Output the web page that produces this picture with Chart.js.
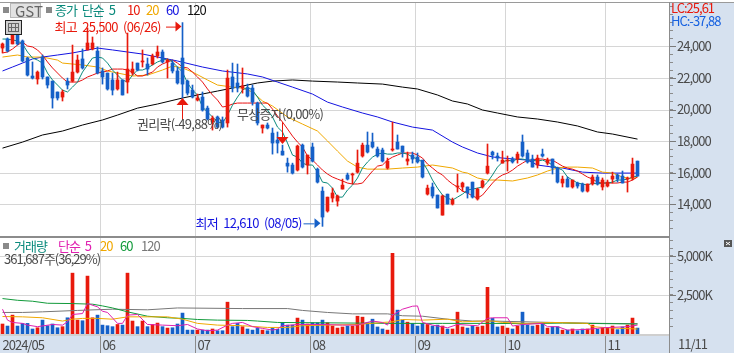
<!DOCTYPE html>
<html><head><meta charset="utf-8">
<style>html,body{margin:0;padding:0;background:#fff;overflow:hidden}#w{position:relative;width:734px;height:353px}</style>
<script src="https://cdn.jsdelivr.net/npm/chart.js@4/dist/chart.umd.min.js"></script>
</head><body><div id="w"><canvas id="c" width="734" height="353"></canvas></div>
<script>
const monthLabels=['2024/05','06','07','08','09','10','11'];
const monthStarts=[0,20,39,62,83,101,121];
const slotCount=134;
const opens=[23890,24460,24150,24840,24340,23260,22120,21930,23320,22060,
21800,21110,20790,21800,21800,22370,23200,23770,23830,23700,
22440,22310,21870,21300,21870,21740,22310,22940,23010,22880,
22880,23390,23640,23010,22940,22440,23260,21800,21230,20600,
20790,20090,19210,19530,19340,19150,22060,21680,21360,21360,
21360,20410,18830,19020,18510,18070,17370,16610,16490,16170,
17750,16490,17630,16230,14840,13580,14400,14210,14970,15860,
15860,16040,17060,17750,17940,17500,17440,16300,17440,17940,
17690,16740,17120,16990,16800,14650,15100,14590,13320,14650,
14020,15100,15100,15100,15410,14340,15100,15980,17310,17060,
16610,16740,16870,16870,17940,17250,16870,16490,17180,16610,
16870,16300,15350,15600,15100,15350,15290,14840,15290,15730,
15100,15160,15600,15860,15790,15600,15670,16740];
const closes=[24150,23700,24840,24150,23070,22180,21990,22370,22060,21550,
20730,20730,21110,21550,22370,23130,22630,24210,24210,22310,
22060,21300,21230,21870,20920,22560,22560,22500,23070,22560,
23390,23640,23010,23130,22440,21680,21610,21040,20790,20730,
19970,19400,19460,18890,18890,21990,21360,21360,21490,20850,
20470,19150,19020,18830,17880,17880,17120,16420,15980,17690,
16360,17120,16740,15410,13200,14460,14720,14530,15220,15600,
15920,16610,17750,17310,17630,17060,16740,16740,17500,17500,
17310,16870,16870,16680,15730,15030,14530,13770,14530,14020,
14270,15160,15350,14720,14460,14970,15480,16420,17120,16930,
16800,16800,16680,17180,17060,16680,16360,16930,17060,16800,
16300,15410,15600,15100,15540,15160,14840,15290,15730,15290,
15540,15410,15790,15600,15350,15670,16550,15790];
const highs=[24210,24530,25030,25030,24400,23320,23010,22440,23450,22060,
21800,21110,21230,21990,24080,23450,23830,25160,24590,23960,
22630,22310,22310,22370,21870,24840,23010,22940,23770,23260,
23510,24020,23770,23200,23130,22690,25500,21870,21550,20980,
21110,20220,19590,19590,19530,22500,22940,22880,22630,21610,
21550,20470,19020,19150,18830,18580,17750,16930,16610,17750,
17820,17120,17880,16300,15100,14460,15030,14590,15600,15980,
15980,17440,17880,18580,18510,17630,17560,16930,19210,18390,
17690,17310,17310,17250,16800,15220,15350,14590,14590,14650,
14400,15920,15410,15100,15410,15030,15540,17820,17370,17250,
17370,17060,16990,17310,18390,17440,17120,17120,17500,16930,
16870,16360,15790,15730,15540,15410,15350,15290,15860,15860,
15670,15540,16040,15920,16110,15730,16930,16740];
const lows=[23580,23640,24150,24080,23010,22120,21930,21610,21930,21360,
20090,20600,20540,21300,21740,22310,22560,23770,23770,22250,
21610,21230,20920,21230,20920,21040,22180,22440,22690,22180,
22820,23260,22940,21990,22310,21610,20730,20920,20730,20540,
19900,19340,18700,18830,18830,18890,21110,21110,21040,20790,
20280,19020,18510,18770,17180,17250,17120,16040,15920,16110,
16300,15920,16680,15350,12610,13510,14150,13890,14970,15540,
15290,15980,16990,17250,17560,16990,16680,16230,17370,17500,
16990,16490,16610,16610,15670,14590,14400,13770,13320,14020,
13960,14780,14840,14400,14400,14270,15030,15920,16870,16740,
16610,16110,16610,16610,16990,16610,16360,16300,16990,16490,
15920,15350,15100,15100,15030,15030,14780,14780,15220,15220,
14910,15100,15350,15410,15350,14780,15540,15790];
const ma5=[24460,24460,24400,24340,24150,23640,23260,23130,22940,22310,
21870,21550,21230,21110,21420,21740,22370,22820,23260,23320,
23260,22940,22500,22180,21870,21740,22180,22500,22500,22630,
22820,23010,23130,23200,23010,22690,22370,21680,21230,20920,
20160,19840,19530,19210,19150,19650,20280,20790,21230,21420,
21230,20790,20280,19970,19530,18890,18580,17880,17120,16990,
16610,16490,16490,16040,15410,15350,15030,14460,14460,14910,
15220,15670,16300,16680,16990,17180,17250,17180,17180,17250,
17250,17180,16990,16870,16680,16170,15540,15030,14590,14400,
14270,14460,14650,14910,14970,15030,15100,15410,15860,16360,
16680,16800,16740,16870,16870,16800,16800,16740,16800,16680,
16490,16300,16170,15730,15540,15350,15290,15220,15350,15290,
15350,15350,15410,15540,15540,15600,15730,15790];
const ma10=[23580,23640,23830,24080,24270,24020,23960,23770,23450,23010,
22630,22310,21990,21740,21740,21740,21870,22060,22180,22310,
22370,22440,22560,22560,22560,22500,22370,22120,22120,22250,
22370,22690,22880,23010,23130,22940,22690,22630,22370,22060,
21740,21300,20920,20600,20160,20220,20350,20410,20410,20410,
20410,20410,20410,20410,20030,19590,19210,18770,18320,17940,
17630,17060,16800,16490,16170,15920,15730,15600,15480,15350,
15290,15290,15350,15730,16110,16420,16490,16800,16990,17120,
17250,17250,17250,17120,16930,16550,16300,16040,15860,15540,
15290,15100,14840,14720,14530,14400,14590,14970,15350,15670,
15860,15980,16170,16420,16610,16800,16800,16870,16870,16800,
16800,16610,16420,16300,16230,16110,15920,15730,15600,15410,
15350,15350,15350,15350,15410,15410,15540,15730];
const ma20At=[0,3,5,8,11,12,16,19,21,23,26,29,32,34,36,38,41,43,46,48,50,52,54,57,60,63,65,67,69,71,73,77,80,83,86,90,92,93,95,97,99,102,105,107,109,111,113,115,118,120,122,124,126,127];
const ma20=[23320,23450,23320,23320,23130,22940,22820,22690,22440,22310,22120,22180,22500,22750,22630,22370,21870,21550,21420,21360,21110,20540,20220,19530,19080,18640,18010,17370,16740,16360,16230,16230,16300,16360,16490,16300,16040,15980,15670,15540,15540,15480,15670,15860,16110,16300,16360,16360,16300,16040,15980,15730,15600,15730];
const ma60At=[0,2,4,6,8,11,14,16,19,22,25,28,32,35,40,44,49,52,55,58,62,65,68,72,75,78,82,86,90,92,95,98,100,105,107,110,112,116,120,127];
const ma60=[22440,22690,22940,23200,23320,23450,23580,23700,23890,23770,23640,23510,23260,23070,22690,22440,22250,22060,21740,21420,20980,20470,20160,19780,19530,19210,18890,18700,17940,17630,17250,17000,16930,16800,16490,16360,16300,16040,15980,15980];
const ma120At=[0,4,8,12,16,20,23,27,31,36,39,43,49,51,54,58,62,67,71,76,80,83,87,90,93,96,99,103,107,111,115,119,122,127];
const ma120=[17560,17940,18390,18640,19020,19340,19650,20090,20350,20730,20920,21170,21550,21680,21800,21870,21800,21740,21680,21610,21420,21300,20920,20540,20350,19970,19780,19530,19400,19210,18960,18580,18450,18130];
const volumes=[640,510,1210,510,680,680,320,400,890,530,
640,400,470,1040,3900,890,850,3710,1040,1210,
570,530,470,610,570,3900,830,470,830,470,
610,700,470,380,400,640,1340,250,250,250,
250,250,320,210,210,2040,470,680,470,320,
250,360,250,210,360,300,720,570,570,1020,
890,640,720,720,890,720,510,380,450,510,
510,1140,1080,720,950,450,320,250,5170,1530,
890,760,660,510,660,610,510,570,510,320,
320,1400,450,380,510,450,510,2990,1000,450,
510,380,320,510,1400,570,510,570,700,380,
470,470,250,250,320,210,320,320,570,300,
400,400,510,280,450,570,1020,380];
const vma5At=[0,1,2,4,5,7,10,12,13,14,16,17,19,20,21,23,24,25,27,29,32,35,37,39,41,43,45,46,48,50,52,54,55,56,59,64,68,71,74,76,77,78,80,82,83,84,86,89,91,95,97,98,101,102,104,108,109,111,113,117,119,120,125,127];
const vma5=[1590,890,740,680,570,470,610,570,780,1250,1310,1950,1740,1460,1380,680,680,1210,1250,610,570,530,610,320,210,250,570,680,740,470,360,250,320,530,610,610,570,570,830,740,570,1210,1590,1780,1800,740,570,400,610,530,1000,1040,1040,510,610,680,470,470,250,300,360,400,470,570];
const vma20At=[0,4,8,12,14,16,19,22,25,29,33,36,39,43,48,53,57,60,65,71,76,78,80,84,89,92,96,98,100,105,110,117,118,121,127];
const vma20=[1120,1100,1040,830,950,1000,1000,950,1100,1100,1100,950,680,570,530,420,420,530,570,610,740,780,930,890,950,780,830,830,740,680,740,680,470,400,320];
const vma60At=[0,3,6,9,14,18,20,22,25,29,33,36,39,43,49,51,55,78,88,98,105,112,116,127];
const vma60=[2270,2160,2100,1970,1950,1910,1800,1670,1420,1140,1040,1000,930,890,870,830,740,680,680,680,660,700,680,640];
const vma120At=[0,4,8,15,22,29,35,48,57,60,65,70,77,80,84,89,94,98,110,120,127];
const vma120=[1380,1380,1420,1510,1590,1550,1670,1630,1630,1510,1380,1290,1290,1170,1140,950,830,830,740,680,660];
const priceTicks=[12500,13000,13500,14000,14500,15000,15500,16000,16500,17000,17500,18000,18500,19000,19500,20000,20500,21000,21500,22000,22500,23000,23500,24000,24500,25000,25500,26000,26500];
const priceLabels=[14000,16000,18000,20000,22000,24000];
const volTicks=[500,1000,1500,2000,2500,3000,3500,4000,4500,5000,5500,6000];
const volLabels=[2500,5000];

const RED='#e8190c',BLUE='#1560c8',GRID='#d6d6d6',AXIS='#8c8c8c',PANEL='#d6e1ef',TXT='#4a4a4a';
const FONT='"Noto Sans CJK KR",sans-serif';
const categories=new Array(slotCount).fill('');
monthStarts.forEach((s,i)=>categories[s]=monthLabels[i]);
const sparse=(at,v)=>{const a=new Array(opens.length).fill(null);at.forEach((k,i)=>a[k]=v[i]);return a;};
const candleColor=opens.map((o,i)=>closes[i]>=o?RED:BLUE);
const line=(data,color,axis,order,w)=>({type:'line',data,yAxisID:axis,borderColor:color,borderWidth:w||1,pointRadius:0,spanGaps:true,tension:0,order,fill:false});
const fmt=v=>String(v).replace(/\B(?=(\d{3})+$)/g,',');
const txt=(ctx,s,x,y,color,size)=>{ctx.fillStyle=color;ctx.font=(size||13)+'px '+FONT;ctx.textAlign='left';ctx.textBaseline='middle';ctx.fillText(s,x,y);};
const noPad=s=>{s.paddingTop=0;s.paddingBottom=0;s.paddingLeft=0;s.paddingRight=0;};

const decor={id:'decor',
beforeDraw(ch){const c=ch.ctx;c.fillStyle=PANEL;c.fillRect(670,2,64,351);c.fillRect(0,336,734,17);c.letterSpacing='-1px';c.wordSpacing='3px';},
beforeDatasetsDraw(ch){const c=ch.ctx,P=ch.scales.yP,V=ch.scales.yV;c.save();c.fillStyle=GRID;
 priceLabels.forEach(t=>c.fillRect(0,Math.round(P.getPixelForValue(t)),669,1));
 volLabels.forEach(t=>c.fillRect(0,Math.round(V.getPixelForValue(t)),669,1));
 c.restore();},
afterDraw(ch){const c=ch.ctx,X=ch.scales.x,P=ch.scales.yP,V=ch.scales.yV;c.save();
 c.fillStyle='#9a9a9a';c.fillRect(0,2,734,1);
 c.fillStyle=AXIS;c.fillRect(0,236,670,2);c.fillRect(669,2,1,351);
 c.fillStyle='#cfcfcf';c.fillRect(0,334,669,2);
 c.fillStyle='#7a7a7a';
 priceLabels.forEach(t=>c.fillRect(670,Math.round(P.getPixelForValue(t)),6,1));
 volLabels.forEach(t=>c.fillRect(670,Math.round(V.getPixelForValue(t)),6,1));
 c.fillStyle='#8a8a8a';c.fillRect(3,7,6,6);c.fillRect(46,7,6,6);c.fillRect(3,243,6,6);
 c.fillStyle='#e2e2e2';c.fillRect(11,3,30,15);c.strokeStyle='#b8b8b8';c.strokeRect(10.5,3.5,30,14);
 c.letterSpacing='0px';txt(c,'GST',15,11,'#666',15);c.letterSpacing='-1px';
 txt(c,'종가 단순 5',55,10,'#0a8a7c',13);
 txt(c,'10',127,10,RED,13);txt(c,'20',146,10,'#f0a800',13);txt(c,'60',166,10,'#1414e0',13);txt(c,'120',187,10,'#111',13);
 c.strokeStyle='#222';c.fillStyle='#cfcfcf';c.fillRect(6,21,15,13);c.strokeRect(5.5,20.5,16,14);
 c.strokeStyle='#666';c.strokeRect(8.5,23.5,10,8);c.beginPath();c.moveTo(11.5,24);c.lineTo(11.5,31);c.moveTo(15.5,24);c.lineTo(15.5,31);c.moveTo(9,27.5);c.lineTo(18,27.5);c.stroke();
 c.letterSpacing='-0.7px';
 const hi=highs.indexOf(Math.max(...highs)),lo=lows.indexOf(Math.min(...lows));
 const hx=X.getPixelForValue(hi),hy=P.getPixelForValue(highs[hi])+4;
 txt(c,'최고 '+fmt(highs[hi])+' (06/26)',hx-128,hy,RED,13);
 c.strokeStyle=RED;c.fillStyle=RED;c.beginPath();c.moveTo(hx-16.5,hy+.5);c.lineTo(hx-6,hy+.5);c.stroke();
 c.beginPath();c.moveTo(hx-1,hy);c.lineTo(hx-7,hy-5);c.lineTo(hx-7,hy+5);c.fill();
 const lx=X.getPixelForValue(lo),ly=P.getPixelForValue(lows[lo])-3;
 txt(c,'최저 '+fmt(lows[lo])+' (08/05)',lx-127,ly,'#1414e0',13);
 c.strokeStyle=BLUE;c.fillStyle=BLUE;c.beginPath();c.moveTo(lx-19,ly+.5);c.lineTo(lx-8,ly+.5);c.stroke();
 c.beginPath();c.moveTo(lx-2,ly);c.lineTo(lx-8,ly-5);c.lineTo(lx-8,ly+5);c.fill();
 const ex=X.getPixelForValue(36),ey=P.getPixelForValue(lows[36]);
 c.strokeStyle=RED;c.fillStyle=RED;c.beginPath();c.moveTo(ex,ey+6);c.lineTo(ex,ey+22);c.stroke();
 c.beginPath();c.moveTo(ex,ey);c.lineTo(ex-6,ey+7);c.lineTo(ex+6,ey+7);c.fill();
 txt(c,'권리락(-49,88%)',137,124,TXT,13);
 const dx=X.getPixelForValue(56),dy=P.getPixelForValue(highs[56]);
 c.strokeStyle=RED;c.fillStyle=RED;
 c.beginPath();c.moveTo(dx,dy-23);c.lineTo(dx,dy-8);c.stroke();
 c.beginPath();c.moveTo(dx,dy-1);c.lineTo(dx-6,dy-8);c.lineTo(dx+6,dy-8);c.fill();
 txt(c,'무상증자(0,00%)',237,114,TXT,13);
 c.letterSpacing='-1px';
 txt(c,'거래량',14,246,'#0a8a7c',13);txt(c,'단순 5',58,246,'#e020b0',13);
 txt(c,'20',100,246,'#f0a800',13);txt(c,'60',120,246,'#119a3a',13);txt(c,'120',141,246,'#777',13);
 txt(c,'361,687주(36,29%)',4,259,TXT,13);
 txt(c,'LC:25,61',671,8,RED,13);txt(c,'HC:-37,88',671,21,'#1560e0',13);
 txt(c,'11/11',678,344,TXT,13);
 c.fillStyle='#555';c.fillRect(724,240,8,7);c.strokeStyle='#fff';c.beginPath();c.moveTo(726,242);c.lineTo(730,245);c.moveTo(730,242);c.lineTo(726,245);c.stroke();
 c.restore();
}};

new Chart(document.getElementById('c'),{
 data:{labels:categories,datasets:[
  {type:'bar',label:'body',data:opens.map((o,i)=>[o,closes[i]]),yAxisID:'yP',backgroundColor:candleColor,barThickness:3,grouped:false,order:0,borderSkipped:false,minBarLength:1},
  {type:'bar',label:'wick',data:lows.map((l,i)=>[l,highs[i]]),yAxisID:'yP',backgroundColor:candleColor,barThickness:1,grouped:false,order:1},
  line(ma5,'#0a8a7c','yP',2),line(ma10,'#e81010','yP',3),line(sparse(ma20At,ma20),'#f0a800','yP',4),line(sparse(ma60At,ma60),'#1414e0','yP',5),line(sparse(ma120At,ma120),'#000','yP',6),
  line(sparse(vma5At,vma5),'#e020b0','yV',7),line(sparse(vma20At,vma20),'#f0a800','yV',8),line(sparse(vma60At,vma60),'#119a3a','yV',9),line(sparse(vma120At,vma120),'#777','yV',10),
  {type:'bar',label:'volume',data:volumes,yAxisID:'yV',backgroundColor:candleColor,barThickness:3,grouped:false,order:11}
 ]},
 plugins:[decor],
 options:{responsive:false,animation:false,events:[],
  layout:{autoPadding:false,padding:{top:3,left:0,right:0,bottom:0}},
  plugins:{legend:{display:false},tooltip:{enabled:false}},
  scales:{
   x:{type:'category',offset:true,
      grid:{offset:true,lineWidth:1,tickLength:19,drawTicks:true,
        color:c=>monthStarts.includes(c.index)&&c.index>0?GRID:'transparent',
        tickColor:c=>monthStarts.includes(c.index)&&c.index>0?AXIS:'transparent'},
      border:{display:false},
      ticks:{autoSkip:false,maxRotation:0,minRotation:0,align:'start',padding:-16,color:TXT,font:{family:FONT,size:13},callback(v){return this.getLabelForValue(v);}},
      afterFit(s){s.height=19;noPad(s);}},
   yP:{type:'linear',position:'right',stack:'p',stackWeight:233,min:12000,max:26740,
      afterBuildTicks(s){s.ticks=priceTicks.map(value=>({value}));},
      grid:{drawOnChartArea:false,tickLength:3,tickColor:AXIS},
      border:{display:false},
      ticks:{autoSkip:false,padding:4,color:TXT,font:{family:FONT,size:13},callback:v=>priceLabels.includes(v)?fmt(v):''},
      afterFit(s){s.width=64;noPad(s);}},
   yV:{type:'linear',position:'right',stack:'p',stackWeight:98,min:0,max:6280,
      afterBuildTicks(s){s.ticks=volTicks.map(value=>({value}));},
      grid:{drawOnChartArea:false,tickLength:3,tickColor:AXIS},
      border:{display:false},
      ticks:{autoSkip:false,padding:4,color:TXT,font:{family:FONT,size:13},callback:v=>volLabels.includes(v)?fmt(v)+'K':''},
      afterFit(s){s.width=64;noPad(s);}}
  }}
});
</script></body></html>
